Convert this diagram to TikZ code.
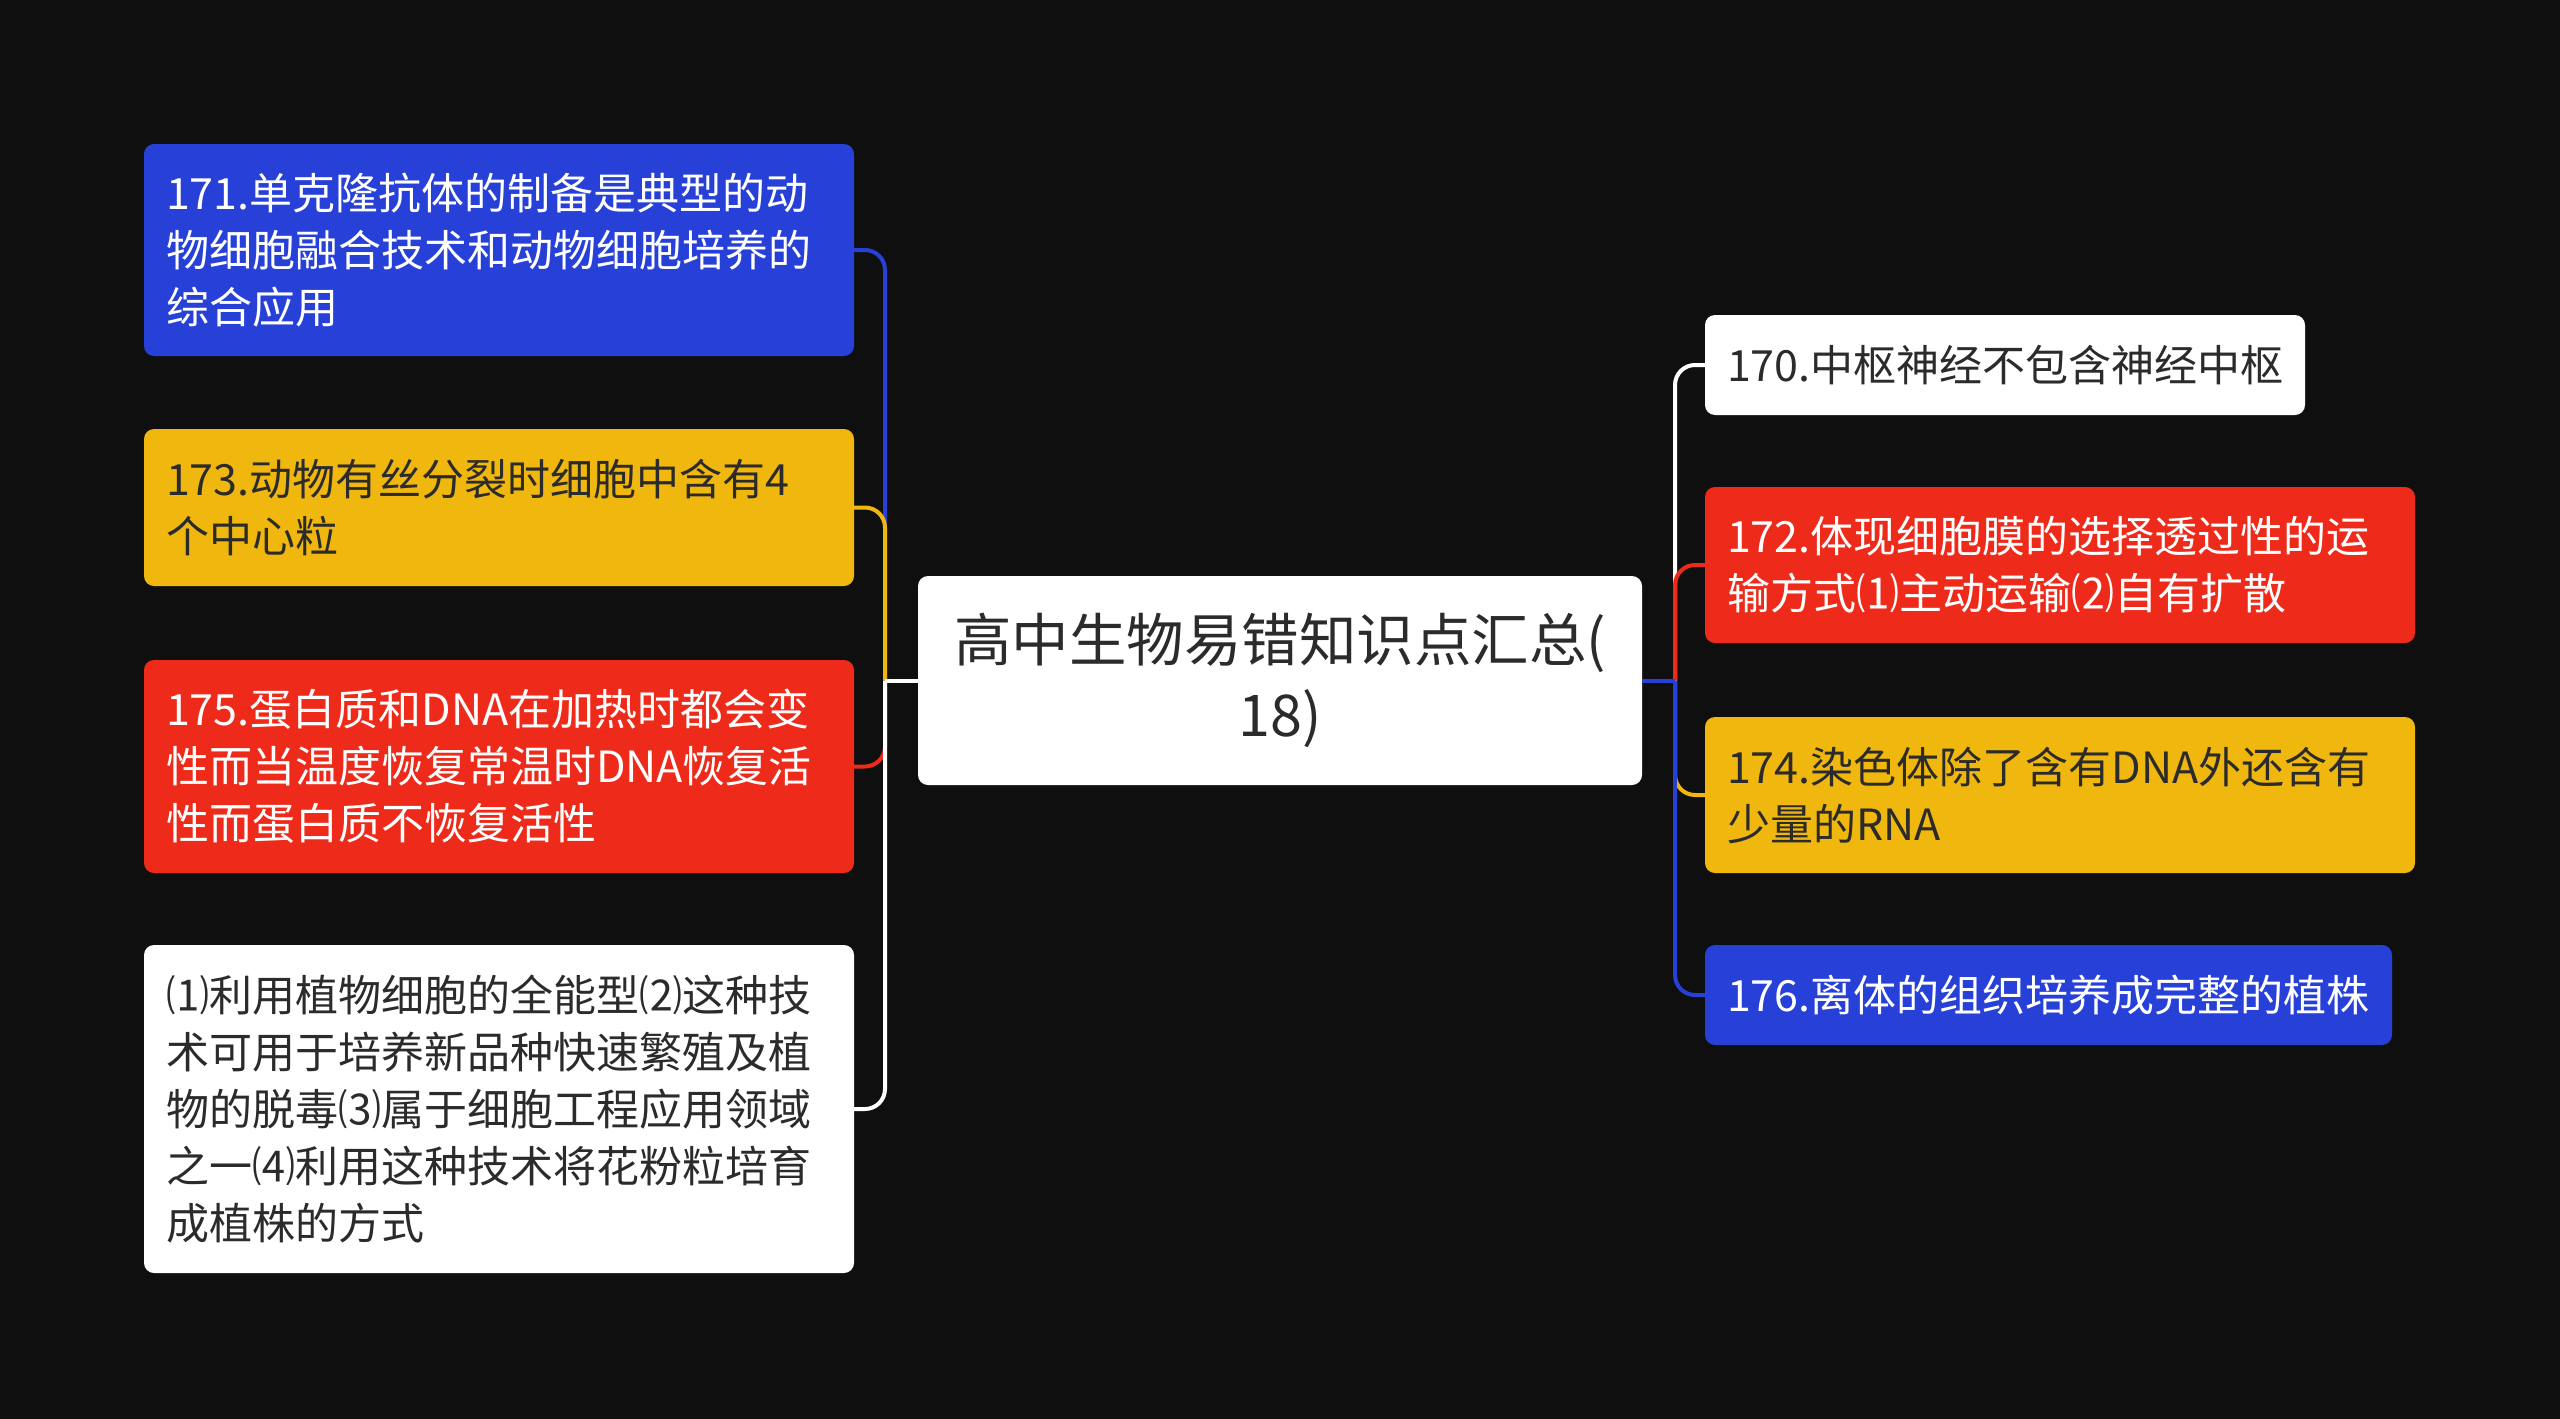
\documentclass[tikz,border=0pt]{standalone}
\usepackage{fontspec}
\setmainfont{Noto Sans CJK SC}
\definecolor{bg}{HTML}{0F0F0F}
\definecolor{cblue}{HTML}{2740D8}
\definecolor{cred}{HTML}{EE2B1A}
\definecolor{cyel}{HTML}{F0B70E}
\definecolor{cdark}{HTML}{2B2B2B}
\tikzset{
  box/.style={rounded corners=10pt, inner xsep=22pt, inner ysep=0pt, align=left,
    font=\fontsize{43}{57}\selectfont, anchor=center},
  conn/.style={line width=4pt, rounded corners=20pt},
}
\begin{document}
\begin{tikzpicture}[x=1pt,y=-1pt]
\fill[bg] (0,0) rectangle (2560,1419);
\useasboundingbox (0,0) rectangle (2560,1419);

% center
\node[box, fill=white, text=cdark, align=center, inner xsep=0pt, text width=724pt, minimum height=209pt,
  font=\fontsize{57.5}{75}\selectfont] (c) at (1280,680.5) {高中生物易错知识点汇总(\\18)};

% left boxes
\node[box, fill=cblue, text=white, text width=666pt, minimum height=212pt] (n171) at (499,250)
 {171.单克隆抗体的制备是典型的动\\物细胞融合技术和动物细胞培养的\\综合应用};
\node[box, fill=cyel, text=cdark, text width=666pt, minimum height=157pt] (n173) at (499,507.5)
 {173.动物有丝分裂时细胞中含有4\\个中心粒};
\node[box, fill=cred, text=white, text width=666pt, minimum height=213pt] (n175) at (499,766.5)
 {175.蛋白质和DNA在加热时都会变\\性而当温度恢复常温时DNA恢复活\\性而蛋白质不恢复活性};
\node[box, fill=white, text=cdark, text width=666pt, minimum height=328pt] (nw) at (499,1109)
 {⑴利用植物细胞的全能型⑵这种技\\术可用于培养新品种快速繁殖及植\\物的脱毒⑶属于细胞工程应用领域\\之一⑷利用这种技术将花粉粒培育\\成植株的方式};

% right boxes
\node[box, fill=white, text=cdark, text width=556pt, minimum height=100pt] (n170) at (2005,365)
 {170.中枢神经不包含神经中枢};
\node[box, fill=cred, text=white, text width=666pt, minimum height=156pt] (n172) at (2060,565)
 {172.体现细胞膜的选择透过性的运\\输方式⑴主动运输⑵自有扩散};
\node[box, fill=cyel, text=cdark, text width=666pt, minimum height=156pt] (n174) at (2060,795)
 {174.染色体除了含有DNA外还含有\\少量的RNA};
\node[box, fill=cblue, text=white, text width=643pt, minimum height=100pt] (n176) at (2048.5,995)
 {176.离体的组织培养成完整的植株};

% connectors
\coordinate (lj) at (885,680.5);
\coordinate (rj) at (1675,680.5);
\draw[conn, cblue] (lj) |- (n171.east);
\draw[conn, cyel] (lj) |- (n173.east);
\draw[conn, cred] (lj) |- (n175.east);
\draw[conn, white] (lj) |- (nw.east);
\draw[conn, white] (c.west) -- (lj);

\draw[conn, white] (rj) |- (n170.west);
\draw[conn, cred] (rj) |- (n172.west);
\draw[conn, cyel] (rj) |- (n174.west);
\draw[conn, cblue] (rj) |- (n176.west);
\draw[conn, cblue] (c.east) -- (rj);
\end{tikzpicture}
\end{document}
